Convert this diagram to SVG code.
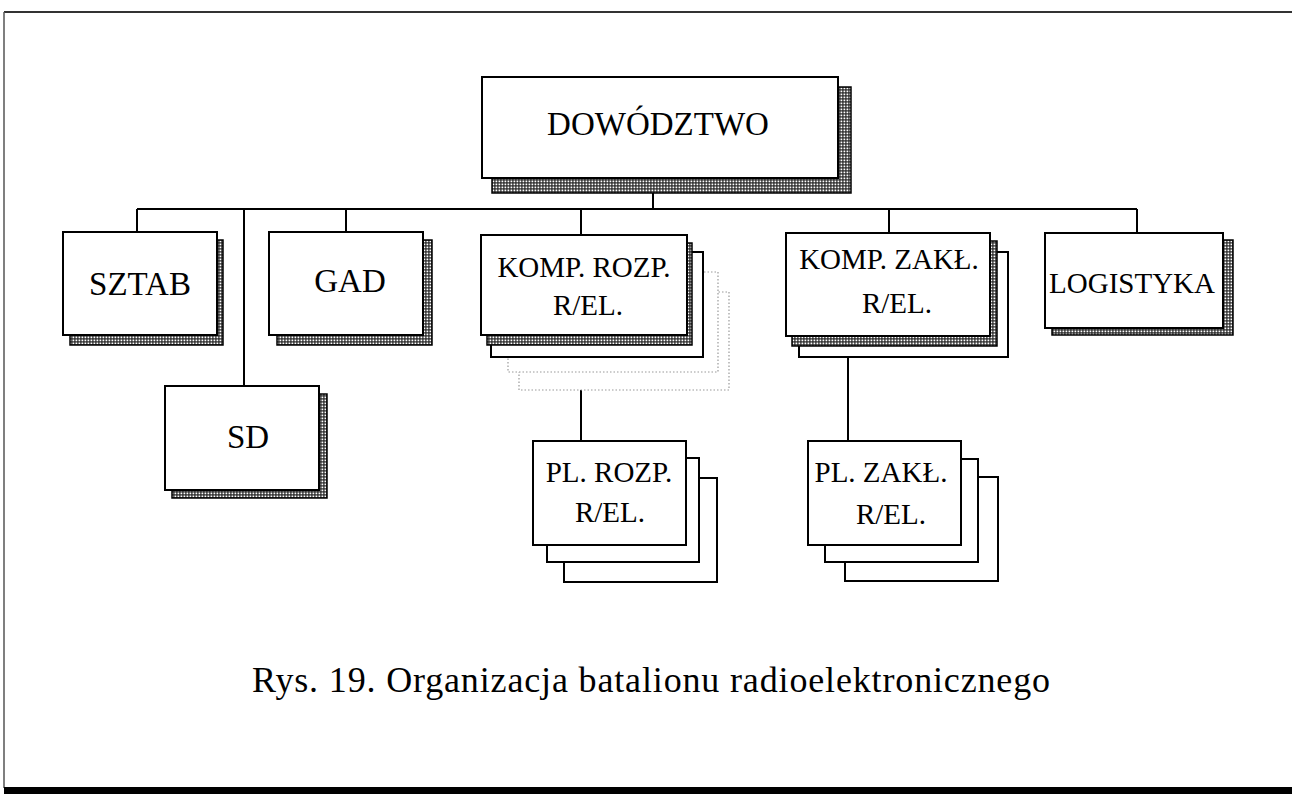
<svg xmlns="http://www.w3.org/2000/svg" width="1292" height="794" viewBox="0 0 1292 794">
<defs>
<pattern id="chk" width="3" height="3" patternUnits="userSpaceOnUse">
<rect width="3" height="3" fill="#222"/>
<rect x="0.5" y="0.5" width="1.8" height="1.8" fill="#fff"/>
</pattern>
</defs>
<style>
.box{fill:#fff;stroke:#000;stroke-width:2}
.shd{fill:url(#chk);stroke:#000;stroke-width:1.5}
.dot{fill:#fff;stroke:#999;stroke-width:1.2;stroke-dasharray:1.5 2}
.ln{stroke:#000;stroke-width:2;fill:none}
text{font-family:"Liberation Serif","Times New Roman",serif;fill:#000;text-anchor:middle}
.big{font-size:33px}
.mid{font-size:29px}
</style>
<rect x="0" y="0" width="1292" height="794" fill="#fff"/>
<g id="frame">
<line x1="4" y1="12" x2="1292" y2="12" stroke="#333" stroke-width="2"/>
<line x1="4" y1="12" x2="4" y2="788" stroke="#555" stroke-width="1.5"/>
<rect x="4" y="787" width="1288" height="7" fill="#000"/>
</g>
<g id="connectors">
<line class="ln" x1="653" y1="193" x2="653" y2="209"/>
<line class="ln" x1="137" y1="209" x2="1137" y2="209"/>
<line class="ln" x1="137" y1="209" x2="137" y2="232"/>
<line class="ln" x1="244" y1="209" x2="244" y2="386"/>
<line class="ln" x1="346" y1="209" x2="346" y2="232"/>
<line class="ln" x1="581" y1="209" x2="581" y2="235"/>
<line class="ln" x1="889" y1="209" x2="889" y2="233"/>
<line class="ln" x1="1137" y1="209" x2="1137" y2="233"/>
<line class="ln" x1="581" y1="390" x2="581" y2="441"/>
<line class="ln" x1="848" y1="357" x2="848" y2="441"/>
</g>
<g id="dowodztwo">
<rect class="shd" x="492" y="87" width="359" height="106"/>
<rect class="box" x="482" y="77" width="356" height="101"/>
<text class="big" x="658" y="135">DOWÓDZTWO</text>
</g>
<g id="sztab">
<rect class="shd" x="70" y="240" width="153" height="105"/>
<rect class="box" x="63" y="232" width="154" height="103"/>
<text class="big" x="140" y="295">SZTAB</text>
</g>
<g id="sd">
<rect class="shd" x="172" y="394" width="155" height="104"/>
<rect class="box" x="165" y="386" width="154" height="104"/>
<text class="big" x="248" y="448">SD</text>
</g>
<g id="gad">
<rect class="shd" x="277" y="240" width="155" height="105"/>
<rect class="box" x="269" y="232" width="154" height="103"/>
<text class="big" x="350" y="292">GAD</text>
</g>
<g id="komp-rozp">
<rect class="dot" x="519" y="292" width="210" height="98"/>
<rect class="dot" x="508" y="272" width="210" height="100"/>
<rect class="box" x="491" y="252" width="212" height="105"/>
<rect class="shd" x="487" y="243" width="205" height="102"/>
<rect class="box" x="481" y="235" width="206" height="100"/>
<text class="mid" x="584" y="277">KOMP. ROZP.</text>
<text class="mid" x="588" y="315">R/EL.</text>
</g>
<g id="komp-zakl">
<rect class="box" x="799" y="252" width="209" height="105"/>
<rect class="shd" x="792" y="241" width="205" height="105"/>
<rect class="box" x="786" y="233" width="204" height="103"/>
<text class="mid" x="889" y="269">KOMP. ZAKŁ.</text>
<text class="mid" x="897" y="313">R/EL.</text>
</g>
<g id="logistyka">
<rect class="shd" x="1052" y="240" width="181" height="95"/>
<rect class="box" x="1045" y="233" width="178" height="95"/>
<text class="mid" x="1132" y="293">LOGISTYKA</text>
</g>
<g id="pl-rozp">
<rect class="box" x="564" y="478" width="153" height="104"/>
<rect class="box" x="547" y="458" width="152" height="104"/>
<rect class="box" x="533" y="441" width="153" height="104"/>
<text class="mid" x="609" y="482">PL. ROZP.</text>
<text class="mid" x="610" y="522">R/EL.</text>
</g>
<g id="pl-zakl">
<rect class="box" x="845" y="477" width="153" height="104"/>
<rect class="box" x="825" y="459" width="153" height="103"/>
<rect class="box" x="808" y="441" width="153" height="104"/>
<text class="mid" x="881" y="482">PL. ZAKŁ.</text>
<text class="mid" x="891" y="524">R/EL.</text>
</g>
<g id="caption">
<text x="651" y="692" style="font-size:36px" textLength="798" lengthAdjust="spacing">Rys. 19. Organizacja batalionu radioelektronicznego</text>
</g>
</svg>
